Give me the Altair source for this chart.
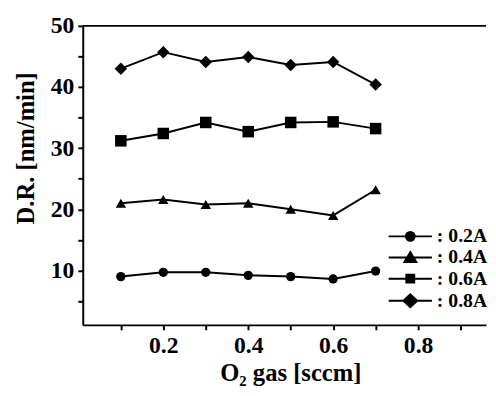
import altair as alt
import pandas as pd

x_vals = [0.1, 0.2, 0.3, 0.4, 0.5, 0.6, 0.7]
series = ["0.2A", "0.4A", "0.6A", "0.8A"]
dr_02 = [9.0, 9.7, 9.7, 9.2, 9.0, 8.6, 9.9]
dr_04 = [21.0, 21.6, 20.8, 21.0, 20.0, 19.0, 23.2]
dr_06 = [31.2, 32.4, 34.2, 32.7, 34.2, 34.3, 33.2]
dr_08 = [43.0, 45.7, 44.1, 44.9, 43.6, 44.1, 40.4]
x_ticks = [0.1, 0.2, 0.3, 0.4, 0.5, 0.6, 0.7, 0.8, 0.9]
y_ticks = [5, 10, 15, 20, 25, 30, 35, 40, 45, 50]
y_top = [50]

shapes = ["circle", "triangle-up", "square", "diamond"]
sizes = [90, 160, 72, 190]
legend_paths = [
    "M-4.4,0H4.4M-0.9,0A0.9,0.9,0,1,0,0.9,0A0.9,0.9,0,1,0,-0.9,0Z",
    "M-4.4,0H4.4M0,-1.1L1.2,0.9L-1.2,0.9Z",
    "M-4.4,0H4.4M-0.8,-0.8H0.8V0.8H-0.8Z",
    "M-4.4,0H4.4M-1.4,0L0,-1.3L1.4,0L0,1.3Z",
]

rows = []
for name, vals in zip(series, [dr_02, dr_04, dr_06, dr_08]):
    for x, v in zip(x_vals, vals):
        rows.append({"x": x, "y": v, "series": name})
df = pd.DataFrame(rows)

FONT = "Liberation Serif"

xscale = alt.Scale(domain=[0.0103, 0.960], nice=False, zero=False)
yscale = alt.Scale(domain=[1.1, 50], nice=False, zero=False)

xaxis = alt.Axis(
    values=x_ticks,
    format=".1f",
    labelExpr="round(datum.value*10) % 2 == 0 ? datum.label : ''",
    title="O₂ gas [sccm]",
    titleX=211,
)
yaxis = alt.Axis(
    values=y_ticks,
    labelExpr="datum.value % 10 == 0 ? datum.label : ''",
    title="D.R. [nm/min]",
    titleY=124,
)
xenc = alt.X("x:Q", scale=xscale, axis=xaxis)
yenc = alt.Y("y:Q", scale=yscale, axis=yaxis)

base = alt.Chart(df)

lines = base.mark_line(color="black", strokeWidth=2).encode(
    x=xenc, y=yenc, detail="series:N"
)

points = base.mark_point(filled=True, color="black", opacity=1).encode(
    x=xenc,
    y=yenc,
    shape=alt.Shape("series:N", scale=alt.Scale(domain=series, range=shapes), legend=None),
    size=alt.Size("series:N", scale=alt.Scale(domain=series, range=sizes), legend=None),
)

top_line = (
    alt.Chart(pd.DataFrame({"y": y_top}))
    .mark_rule(color="black", strokeWidth=2)
    .encode(y=yenc)
)

legend_layer = base.transform_filter("datum.x > 100").mark_point(
    filled=True, fill="black", stroke="black", strokeWidth=2, size=100, opacity=1
).encode(
    x=xenc,
    y=yenc,
    shape=alt.Shape(
        "series:N",
        scale=alt.Scale(domain=series, range=legend_paths),
        legend=alt.Legend(
            title=None,
            orient="none",
            legendX=323,
            legendY=204,
            labelExpr="': ' + datum.label",
            labelFont=FONT,
            labelFontSize=20,
            labelFontWeight="bold",
            labelColor="black",
            labelOffset=17,
            symbolSize=100,
            symbolStrokeWidth=2,
            symbolOpacity=1,
            rowPadding=1.5,
            padding=0,
        ),
    ),
)

chart = (
    alt.layer(lines, points, top_line, legend_layer)
    .resolve_scale(shape="independent", size="independent")
    .properties(
        width=410,
        height=304,
        autosize=alt.AutoSizeParams(type="none"),
        padding={"left": 76, "top": 15, "right": 2, "bottom": 61},
        background="white",
    )
    .configure_view(stroke=None)
    .configure_axis(
        grid=False,
        domainColor="black",
        domainWidth=2,
        tickColor="black",
        tickWidth=2,
        tickSize=5,
        labelFont=FONT,
        labelFontSize=24,
        labelFontWeight="bold",
        labelColor="black",
        labelPadding=4,
        titleFont=FONT,
        titleFontSize=25,
        titleFontWeight="bold",
        titleColor="black",
    )
    .configure_axisX(titlePadding=4)
    .configure_axisY(titlePadding=12)
)

chart.save("out.html", embed_options={"renderer": "svg", "actions": False})
